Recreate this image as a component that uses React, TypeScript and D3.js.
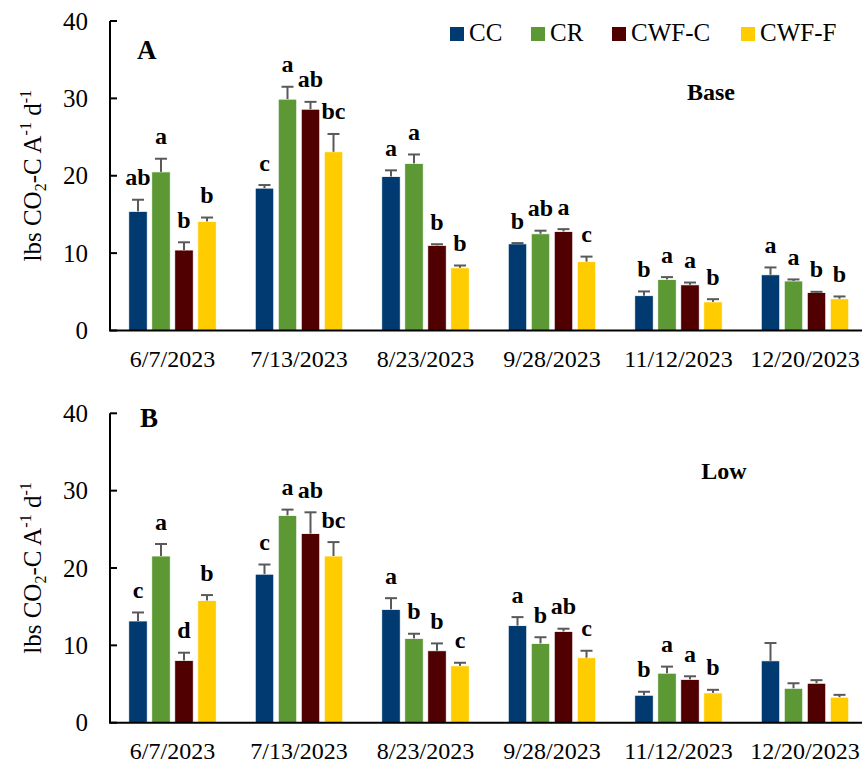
import { useEffect, useRef } from 'react';
import * as d3 from 'd3';

const dates = ['6/7/2023', '7/13/2023', '8/23/2023', '9/28/2023', '11/12/2023', '12/20/2023'];
const series = ['CC', 'CR', 'CWF-C', 'CWF-F'];
const colors = ['#003A70', '#5C9834', '#500000', '#FFCC00'];
const yTicks = [0, 10, 20, 30, 40];

// Panel A (Base)
const baseCC = [15.4, 18.4, 19.9, 11.2, 4.5, 7.2];
const baseCR = [20.5, 29.9, 21.6, 12.5, 6.6, 6.4];
const baseCWFC = [10.4, 28.6, 11.0, 12.8, 5.9, 4.9];
const baseCWFF = [14.1, 23.1, 8.1, 8.9, 3.7, 4.1];
const baseCCErr = [1.5, 0.4, 0.8, 0.1, 0.55, 0.95];
const baseCRErr = [1.7, 1.6, 1.15, 0.4, 0.3, 0.2];
const baseCWFCErr = [1.0, 0.95, 0.15, 0.3, 0.3, 0.1];
const baseCWFFErr = [0.5, 2.3, 0.3, 0.65, 0.35, 0.3];
const baseCCSig = ['ab', 'c', 'a', 'b', 'b', 'a'];
const baseCRSig = ['a', 'a', 'a', 'ab', 'a', 'a'];
const baseCWFCSig = ['b', 'ab', 'b', 'a', 'a', 'b'];
const baseCWFFSig = ['b', 'bc', 'b', 'c', 'b', 'b'];

// Panel B (Low)
const lowCC = [13.15, 19.2, 14.65, 12.55, 3.55, 8.0];
const lowCR = [21.55, 26.8, 10.9, 10.25, 6.4, 4.45];
const lowCWFC = [8.05, 24.45, 9.3, 11.8, 5.6, 5.1];
const lowCWFF = [15.8, 21.55, 7.35, 8.4, 3.85, 3.3];
const lowCCErr = [1.1, 1.25, 1.45, 1.1, 0.45, 2.3];
const lowCRErr = [1.55, 0.75, 0.6, 0.8, 0.85, 0.65];
const lowCWFCErr = [1.0, 2.75, 0.95, 0.35, 0.4, 0.4];
const lowCWFFErr = [0.7, 1.8, 0.4, 0.9, 0.4, 0.3];
const lowCCSig = ['c', 'c', 'a', 'a', 'b', ''];
const lowCRSig = ['a', 'a', 'b', 'b', 'a', ''];
const lowCWFCSig = ['d', 'ab', 'b', 'ab', 'a', ''];
const lowCWFFSig = ['b', 'bc', 'c', 'c', 'b', ''];

const FONT = '"Liberation Serif", "Times New Roman", serif';

interface Panel {
  letter: string;
  title: string;
  top: number;
  bottom: number;
  values: number[][];
  errs: number[][];
  sigs: string[][];
  titleX: number;
  titleY: number;
  letterX: number;
  letterY: number;
}

const panels: Panel[] = [
  {
    letter: 'A', title: 'Base', top: 21, bottom: 330.5,
    values: [baseCC, baseCR, baseCWFC, baseCWFF],
    errs: [baseCCErr, baseCRErr, baseCWFCErr, baseCWFFErr],
    sigs: [baseCCSig, baseCRSig, baseCWFCSig, baseCWFFSig],
    titleX: 711, titleY: 100, letterX: 137, letterY: 59,
  },
  {
    letter: 'B', title: 'Low', top: 413.3, bottom: 722.7,
    values: [lowCC, lowCR, lowCWFC, lowCWFF],
    errs: [lowCCErr, lowCRErr, lowCWFCErr, lowCWFFErr],
    sigs: [lowCCSig, lowCRSig, lowCWFCSig, lowCWFFSig],
    titleX: 724, titleY: 479, letterX: 140, letterY: 427,
  },
];

export default function App() {
  const svgRef = useRef<SVGSVGElement>(null);

  useEffect(() => {
    document.body.style.margin = '0';
    if (!svgRef.current) return;
    const svg = d3.select(svgRef.current);
    svg.selectAll('*').remove();

    const axisX = 110;
    const x0 = d3.scaleBand().domain(dates).range([109.25, 868.25]);
    const x1 = d3.scaleBand().domain(series).range([0, 87.5]).paddingInner(0.196).paddingOuter(0);

    panels.forEach(p => {
      const g = svg.append('g');
      const y = d3.scaleLinear().domain([0, 40]).range([p.bottom, p.top]);

      // Bars, error bars, significance letters
      series.forEach((s, si) => {
        dates.forEach((d, di) => {
          const cx = x0(d)! + x0.bandwidth() / 2 - 43.75;
          const bx = cx + x1(s)!;
          const bw = x1.bandwidth();
          const v = p.values[si][di];
          const e = p.errs[si][di];
          g.append('rect').attr('x', bx).attr('y', y(v)).attr('width', bw).attr('height', y(0) - y(v))
            .attr('fill', colors[si]).attr('stroke', '#ffffff').attr('stroke-width', 0.8);
          const mx = bx + bw / 2;
          g.append('line').attr('x1', mx).attr('x2', mx).attr('y1', y(v)).attr('y2', y(v + e))
            .attr('stroke', '#595959').attr('stroke-width', 2);
          g.append('line').attr('x1', mx - 6).attr('x2', mx + 6).attr('y1', y(v + e)).attr('y2', y(v + e))
            .attr('stroke', '#595959').attr('stroke-width', 2);
          const sig = p.sigs[si][di];
          if (sig) {
            g.append('text').attr('x', mx).attr('y', y(v + e) - 14.5).attr('text-anchor', 'middle')
              .attr('font-family', FONT).attr('font-weight', 'bold').attr('font-size', '24px')
              .attr('fill', '#000').text(sig);
          }
        });
      });

      // Y axis
      g.append('line').attr('x1', axisX).attr('x2', axisX).attr('y1', p.top).attr('y2', p.bottom)
        .attr('stroke', '#000').attr('stroke-width', 2);
      yTicks.forEach(t => {
        g.append('line').attr('x1', axisX).attr('x2', axisX + 7).attr('y1', y(t)).attr('y2', y(t))
          .attr('stroke', '#000').attr('stroke-width', 2);
        g.append('text').attr('x', 88).attr('y', y(t) + 8.5).attr('text-anchor', 'end')
          .attr('font-family', FONT).attr('font-size', '25px').attr('fill', '#000').text(t);
      });
      // X axis
      g.append('line').attr('x1', axisX - 1).attr('x2', 862).attr('y1', y(0)).attr('y2', y(0))
        .attr('stroke', '#000').attr('stroke-width', 2);
      dates.forEach(d => {
        g.append('text').attr('x', x0(d)! + x0.bandwidth() / 2).attr('y', y(0) + 36)
          .attr('text-anchor', 'middle').attr('font-family', FONT).attr('font-size', '24px')
          .attr('fill', '#000').text(d);
      });

      // Y title
      const yc = (p.top + p.bottom) / 2;
      const yt = g.append('text').attr('transform', `translate(41,${yc}) rotate(-90)`)
        .attr('text-anchor', 'middle').attr('font-family', FONT).attr('font-size', '25px').attr('fill', '#000');
      yt.append('tspan').text('lbs CO');
      yt.append('tspan').attr('font-size', '16px').attr('dy', 5).text('2');
      yt.append('tspan').attr('dy', -5).text('-C A');
      yt.append('tspan').attr('font-size', '16px').attr('dy', -10).text('-1');
      yt.append('tspan').attr('dy', 10).text(' d');
      yt.append('tspan').attr('font-size', '16px').attr('dy', -10).text('-1');

      // Panel letter and title
      g.append('text').attr('x', p.letterX).attr('y', p.letterY).attr('font-family', FONT)
        .attr('font-weight', 'bold').attr('font-size', '27px').attr('fill', '#000').text(p.letter);
      g.append('text').attr('x', p.titleX).attr('y', p.titleY).attr('text-anchor', 'middle').attr('font-family', FONT)
        .attr('font-weight', 'bold').attr('font-size', '24px').attr('fill', '#000').text(p.title);
    });

    // Legend
    const legendX = [450, 531, 612, 741];
    series.forEach((s, i) => {
      svg.append('rect').attr('x', legendX[i]).attr('y', 27).attr('width', 14).attr('height', 14).attr('fill', colors[i]);
      svg.append('text').attr('x', legendX[i] + 19).attr('y', 41).attr('font-family', FONT)
        .attr('font-size', '25px').attr('fill', '#000').text(s);
    });
  }, []);

  return <svg ref={svgRef} width={862} height={764} viewBox="0 0 862 764" style={{ display: 'block', background: '#fff' }} />;
}
